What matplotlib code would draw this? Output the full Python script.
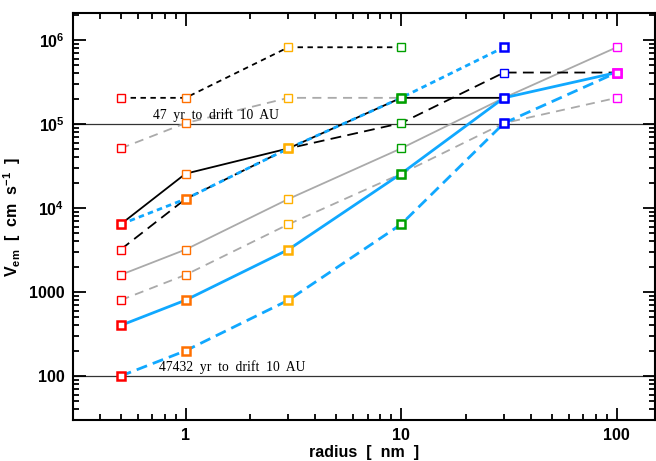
import matplotlib
matplotlib.use("Agg")
import matplotlib.pyplot as plt
from matplotlib.ticker import LogLocator, NullFormatter, FixedLocator, FixedFormatter

plt.rcParams['font.family'] = ['Liberation Sans', 'DejaVu Sans']
plt.rcParams['mathtext.fontset'] = 'custom'
plt.rcParams['mathtext.rm'] = 'Liberation Sans'
plt.rcParams['mathtext.bf'] = 'Liberation Sans:bold'

# radius grid (nm) and marker colour per radius
radius = [0.5, 1, 3, 10, 30, 100]
radius_colors = ['#ff0000', '#ff7000', '#ffb000', '#00a000', '#0000ff', '#ff00ff']

# series values (cm/s)
black_sdash = [204800, 204800, 819200, 819200]
gray_dash_hi = [51200, 102400, 204800, 204800]
black_solid = [6400, 25600, 51200, 204800, 204800]
blue_sdash = [6400, 12800, 51200, 204800, 819200]
black_ldash = [3200, 12800, 51200, 102400, 409600, 409600]
gray_solid = [1600, 3200, 12800, 51200, 204800, 819200]
gray_dash_lo = [800, 1600, 6400, 25600, 102400, 204800]
blue_solid = [400, 800, 3200, 25600, 204800, 409600]
blue_dash = [100, 200, 800, 6400, 102400, 409600]

drift_levels = [1e5, 100]
drift_texts = ['47  yr  to  drift  10  AU', '47432  yr  to  drift  10  AU']
drift_text_x = [0.71, 0.757]

x_ticks = [1, 10, 100]
x_ticklabels = ['1', '10', '100']
y_ticks = [100, 1000, 1e4, 1e5, 1e6]
y_ticklabels = ['100', '1000', r'$\mathbf{10^4}$', r'$\mathbf{10^5}$', r'$\mathbf{10^6}$']

fig = plt.figure(figsize=(6.56, 4.61), dpi=100)
ax = fig.add_axes([0.111, 0.089, 0.887, 0.883])
ax.set_xscale('log')
ax.set_yscale('log')
ax.set_xlim(0.3, 150)
ax.set_ylim(30, 2.1e6)

gray = '#aaaaaa'
blue = '#10a8ff'
series = [
    (gray_dash_hi, gray, (0, (5, 3.5)), 1.3, 1.0),
    (gray_solid, gray, '-', 1.3, 1.0),
    (gray_dash_lo, gray, (0, (5, 3.5)), 1.3, 1.0),
    (black_sdash, 'black', (0, (3, 2.5)), 1.3, 1.0),
    (black_ldash, 'black', (0, (6, 3.5)), 1.3, 1.0),
    (black_solid, 'black', '-', 1.3, 1.0),
    (blue_sdash, blue, (0, (2, 1.5)), 2.0, 1.8),
    (blue_dash, blue, (0, (4, 2.2)), 2.0, 1.8),
    (blue_solid, blue, '-', 2.0, 1.8),
]

for lvl in drift_levels:
    ax.axhline(lvl, color='#333333', lw=0.9, zorder=1)
for t, xt, lvl in zip(drift_texts, drift_text_x, drift_levels):
    ax.text(xt, lvl * 1.06, t, fontsize=9.8, family=['Liberation Serif'], va='bottom', ha='left')

for vals, col, ls, lw, mew in series:
    xs = radius[:len(vals)]
    ax.plot(xs, vals, color=col, ls=ls, lw=lw, zorder=2)
for vals, col, ls, lw, mew in series:
    xs = radius[:len(vals)]
    for xv, yv, mc in zip(xs, vals, radius_colors):
        ax.plot([xv], [yv], marker='s', ms=5.5, mfc='white', mec=mc, mew=mew, ls='none', zorder=3)

ax.xaxis.set_major_locator(FixedLocator(x_ticks))
ax.xaxis.set_major_formatter(FixedFormatter(x_ticklabels))
ax.xaxis.set_minor_locator(LogLocator(base=10, subs=range(2, 10)))
ax.xaxis.set_minor_formatter(NullFormatter())
ax.yaxis.set_major_locator(FixedLocator(y_ticks))
ax.yaxis.set_major_formatter(FixedFormatter(y_ticklabels))
ax.yaxis.set_minor_locator(LogLocator(base=10, subs=range(2, 10)))
ax.yaxis.set_minor_formatter(NullFormatter())

ax.tick_params(which='both', direction='in', top=True, right=True, width=1.3)
ax.tick_params(which='major', length=9, labelsize=11.5, pad=6)
ax.tick_params(which='minor', length=4.5)
for lab in ax.get_xticklabels() + ax.get_yticklabels():
    lab.set_fontweight('bold')
for sp in ax.spines.values():
    sp.set_linewidth(1.5)

ax.set_xlabel('radius  [  nm  ]', fontsize=11.5, fontweight='bold', labelpad=1)
ax.set_ylabel(r'V$_{\mathbf{em}}$  [  cm  s$^{\mathbf{-1}}$  ]', fontsize=11.5, fontweight='bold', labelpad=4)

fig.savefig('out.png', dpi=100)
